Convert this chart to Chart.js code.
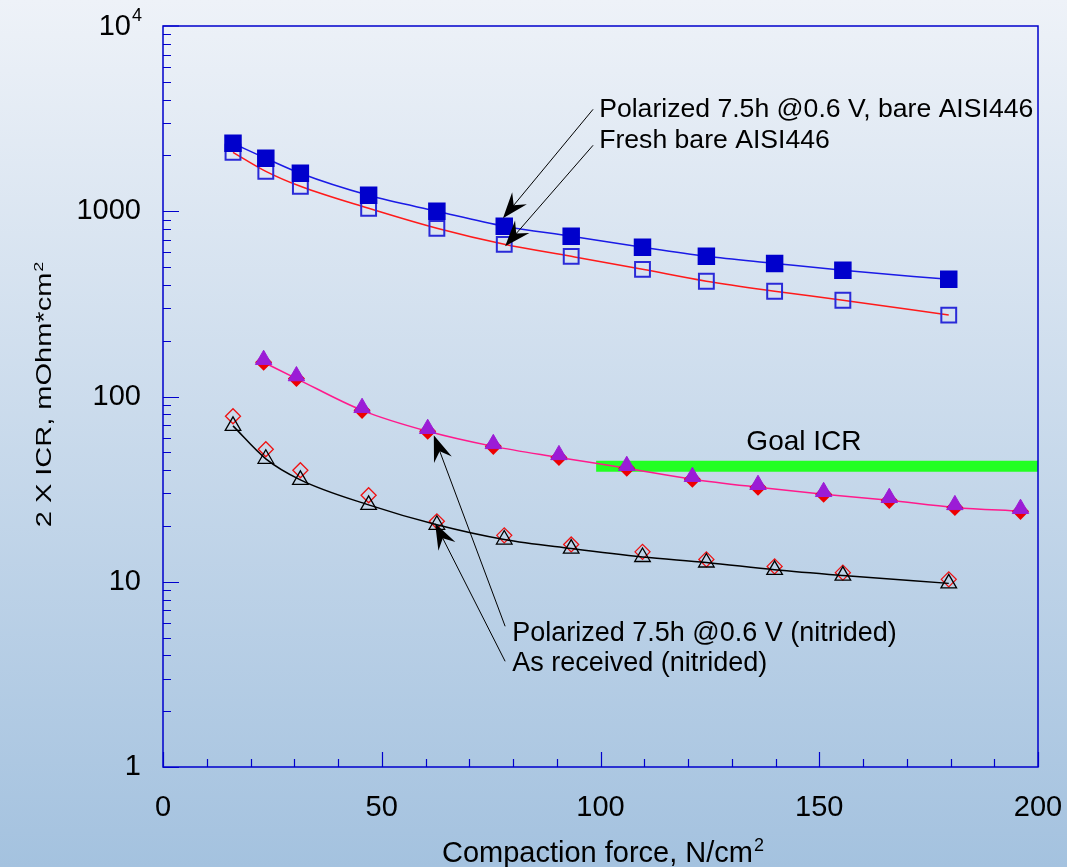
<!DOCTYPE html>
<html>
<head>
<meta charset="utf-8">
<title>ICR vs compaction force</title>
<script src="https://cdn.jsdelivr.net/npm/chart.js@4/dist/chart.umd.min.js"></script>
<style>
  html, body { margin: 0; padding: 0; background: linear-gradient(#eef2f8, #a4c2df); }
  #wrap { width: 1067px; height: 867px; }
</style>
</head>
<body>
<div id="wrap"><canvas id="chart" width="1067" height="867"></canvas></div>
<script>
// compaction force, N/cm2
const forceBare = [16, 23.5, 31.4, 47, 62.6, 78, 93.3, 109.6, 124.2, 139.8, 155.4, 179.6];
const forceNitPol = [23, 30.5, 45.5, 60.5, 75.5, 90.5, 106, 121, 136, 151, 166, 181, 196];

// 2 x ICR, mOhm*cm2
const polarizedBare = [2327, 1932, 1603, 1219, 1000, 830, 733, 639, 571, 523, 480, 429];
const freshBare = [2081, 1643, 1364, 1037, 809, 663, 571, 486, 419, 370, 331, 275];
const polarizedNitTri = [158, 129, 87, 67, 55.5, 48.4, 42.3, 36.9, 33.4, 30.6, 28.4, 26.0, 24.8];
const polarizedNitDia = [153, 125, 84.2, 64.9, 53.8, 46.9, 41, 35.8, 32.4, 29.7, 27.5, 25.2, 24.0];
const receivedNitDia = [78.2, 51.9, 40, 29.3, 21.2, 17.8, 15.9, 14.5, 13.2, 12.1, 11.2, 10.3];
const receivedNitTri = [69.4, 46.1, 35.5, 26.0, 20.3, 16.9, 15.1, 13.6, 12.7, 11.6, 10.8, 9.8];

const goalIcr = 42;
const goalFrom = 99;
const goalTo = 200;

const xTicks = [0, 50, 100, 150, 200];
const yDecades = [1, 10, 100, 1000, 10000];

const FONT = '"Liberation Sans", Arial, sans-serif';

function pts(xs, ys) {
    return xs.map((x, i) => ({ x: x, y: ys[i] }));
}

function sup(ctx, base, exp, x, y, size, align) {
    ctx.font = size + 'px ' + FONT;
    const w1 = ctx.measureText(base).width;
    ctx.font = Math.round(size * 0.62) + 'px ' + FONT;
    const w2 = ctx.measureText(exp).width;
    let left = x;
    if (align === 'center') left = x - (w1 + w2) / 2;
    if (align === 'right') left = x - (w1 + w2);
    ctx.textAlign = 'left';
    ctx.font = size + 'px ' + FONT;
    ctx.fillText(base, left, y);
    ctx.font = Math.round(size * 0.62) + 'px ' + FONT;
    ctx.fillText(exp, left + w1 + 1, y - size * 0.38);
}

function arrow(ctx, x0, y0, x1, y1) {
    const dx = x0 - x1, dy = y0 - y1;
    const len = Math.hypot(dx, dy);
    const ux = dx / len, uy = dy / len;
    const px = -uy, py = ux;
    const L = 26, W = 9.5;
    ctx.strokeStyle = '#000';
    ctx.lineWidth = 1;
    ctx.beginPath();
    ctx.moveTo(x0, y0);
    ctx.lineTo(x1 + ux * 14, y1 + uy * 14);
    ctx.stroke();
    ctx.fillStyle = '#000';
    ctx.beginPath();
    ctx.moveTo(x1, y1);
    ctx.lineTo(x1 + ux * L + px * W, y1 + uy * L + py * W);
    ctx.lineTo(x1 + ux * L * 0.65, y1 + uy * L * 0.65);
    ctx.lineTo(x1 + ux * L - px * W, y1 + uy * L - py * W);
    ctx.closePath();
    ctx.fill();
}

function noPad(s) {
    s.paddingTop = 0;
    s.paddingBottom = 0;
    s.paddingLeft = 0;
    s.paddingRight = 0;
}

const backdrop = {
    id: 'backdrop',
    beforeDraw(chart) {
        const ctx = chart.ctx;
        const g = ctx.createLinearGradient(0, 0, 0, chart.height);
        g.addColorStop(0, '#eef2f8');
        g.addColorStop(1, '#a4c2df');
        ctx.save();
        ctx.fillStyle = g;
        ctx.fillRect(0, 0, chart.width, chart.height);
        ctx.restore();
    }
};

const overlay = {
    id: 'overlay',
    afterDraw(chart) {
        const ctx = chart.ctx;
        const a = chart.chartArea;
        const xs = chart.scales.x, ys = chart.scales.y;
        const X = v => xs.getPixelForValue(v);
        const Y = v => ys.getPixelForValue(v);
        ctx.save();

        // frame
        ctx.strokeStyle = '#0000cc';
        ctx.lineWidth = 1.5;
        ctx.strokeRect(a.left, a.top, a.right - a.left, a.bottom - a.top);

        // inside ticks
        ctx.lineWidth = 1.2;
        ctx.beginPath();
        for (let d = 0; d < 4; d++) {
            for (let k = 1; k <= 9; k++) {
                const py = Math.round(Y(k * Math.pow(10, d))) + 0.5;
                ctx.moveTo(a.left, py);
                ctx.lineTo(a.left + (k === 1 ? 16 : 8), py);
            }
        }
        ctx.moveTo(a.left, Y(10000));
        ctx.lineTo(a.left + 16, Y(10000));
        for (let v = 0; v <= 200; v += 10) {
            const px = Math.round(X(v)) + 0.5;
            ctx.moveTo(px, a.bottom);
            ctx.lineTo(px, a.bottom - (v % 50 === 0 ? 15 : 8));
        }
        ctx.stroke();

        // 10^4 label
        ctx.fillStyle = '#000';
        ctx.textBaseline = 'middle';
        sup(ctx, '10', '4', a.left - 22, Y(10000) + 1, 29, 'right');

        // axis titles
        ctx.textBaseline = 'alphabetic';
        sup(ctx, 'Compaction force, N/cm', '2', (a.left + a.right) / 2 + 2, 862, 29, 'center');
        ctx.save();
        ctx.translate(51, 395);
        ctx.rotate(-Math.PI / 2);
        ctx.scale(1, 0.76);
        sup(ctx, '2 X ICR, mOhm*cm', '2', 0, 0, 29, 'center');
        ctx.restore();

        // annotations
        ctx.font = '26.6px ' + FONT;
        ctx.textAlign = 'left';
        ctx.fillText('Polarized 7.5h @0.6 V, bare AISI446', X(99.7), Y(3215));
        ctx.fillText('Fresh bare AISI446', X(99.7), Y(2187));
        ctx.font = '27px ' + FONT;
        ctx.fillText('Polarized 7.5h @0.6 V (nitrided)', X(79.8), Y(4.77));
        ctx.fillText('As received (nitrided)', X(79.8), Y(3.29));
        ctx.font = '28px ' + FONT;
        ctx.textAlign = 'center';
        ctx.fillText('Goal ICR', X(146.5), Y(51.2));

        arrow(ctx, X(98.3), Y(3550), X(77.7), Y(916));
        arrow(ctx, X(98.3), Y(2270), X(78.2), Y(647));
        arrow(ctx, X(78.2), Y(5.75), X(61.9), Y(61.7));
        arrow(ctx, X(78.2), Y(3.72), X(62.2), Y(20.7));
        ctx.restore();
    }
};

new Chart(document.getElementById('chart'), {
    type: 'scatter',
    data: {
        datasets: [
            {
                label: 'Polarized 7.5h @0.6 V (nitrided), triangles',
                data: pts(forceNitPol, polarizedNitTri),
                pointStyle: 'triangle',
                pointRadius: 9.5,
                backgroundColor: '#9b1cd6',
                borderColor: '#9b1cd6',
                borderWidth: 1,
                showLine: false
            }, {
                label: 'Polarized 7.5h @0.6 V (nitrided)',
                data: pts(forceNitPol, polarizedNitDia),
                pointStyle: 'rectRot',
                pointRadius: 7.5,
                pointBackgroundColor: '#ee0000',
                pointBorderColor: '#ee0000',
                borderColor: '#ff1a8c',
                borderWidth: 1.5,
                showLine: true,
                cubicInterpolationMode: 'monotone'
            }, {
                label: 'As received (nitrided), triangles',
                data: pts(forceBare, receivedNitTri),
                pointStyle: 'triangle',
                pointRadius: 9,
                pointBackgroundColor: 'rgba(0,0,0,0)',
                pointBorderColor: '#000',
                pointBorderWidth: 1.3,
                borderColor: '#000',
                borderWidth: 1.5,
                showLine: true,
                cubicInterpolationMode: 'monotone'
            }, {
                label: 'As received (nitrided)',
                data: pts(forceBare, receivedNitDia),
                pointStyle: 'rectRot',
                pointRadius: 7.5,
                pointBackgroundColor: 'rgba(0,0,0,0)',
                pointBorderColor: '#ee1111',
                pointBorderWidth: 1.3,
                showLine: false
            }, {
                label: 'Polarized 7.5h @0.6 V, bare AISI446',
                data: pts(forceBare, polarizedBare),
                pointStyle: 'rect',
                pointRadius: 11.3,
                pointBackgroundColor: '#0000cc',
                pointBorderColor: '#0000cc',
                borderColor: '#1a1ae6',
                borderWidth: 1.5,
                showLine: true,
                cubicInterpolationMode: 'monotone'
            }, {
                label: 'Fresh bare AISI446',
                data: pts(forceBare, freshBare),
                pointStyle: 'rect',
                pointRadius: 10.5,
                pointBackgroundColor: 'rgba(0,0,0,0)',
                pointBorderColor: '#2a2ad8',
                pointBorderWidth: 2,
                borderColor: '#ff1a1a',
                borderWidth: 1.5,
                showLine: true,
                cubicInterpolationMode: 'monotone'
            }, {
                label: 'Goal ICR',
                data: [{ x: goalFrom, y: goalIcr }, { x: goalTo, y: goalIcr }],
                borderColor: '#22ff22',
                borderWidth: 11,
                borderCapStyle: 'butt',
                pointRadius: 0,
                showLine: true
            }
        ]
    },
    options: {
        responsive: false,
        animation: false,
        events: [],
        layout: { padding: { top: 26, right: 29, left: 0, bottom: 0 } },
        plugins: {
            legend: { display: false },
            tooltip: { enabled: false }
        },
        scales: {
            x: {
                type: 'linear',
                min: 0,
                max: 200,
                afterBuildTicks: s => { s.ticks = xTicks.map(v => ({ value: v })); },
                afterFit: s => { s.height = 100; noPad(s); },
                grid: { display: false, drawTicks: false },
                border: { display: false },
                ticks: {
                    font: { family: FONT, size: 29 },
                    color: '#000',
                    padding: 24,
                    maxRotation: 0
                }
            },
            y: {
                type: 'logarithmic',
                min: 1,
                max: 10000,
                afterBuildTicks: s => { s.ticks = yDecades.map(v => ({ value: v })); },
                afterFit: s => { s.width = 163; noPad(s); },
                grid: { display: false, drawTicks: false },
                border: { display: false },
                ticks: {
                    autoSkip: false,
                    font: { family: FONT, size: 29 },
                    color: '#000',
                    padding: 22,
                    callback: v => (v < 10000 ? String(v) : '')
                }
            }
        }
    },
    plugins: [backdrop, overlay]
});
</script>
</body>
</html>
